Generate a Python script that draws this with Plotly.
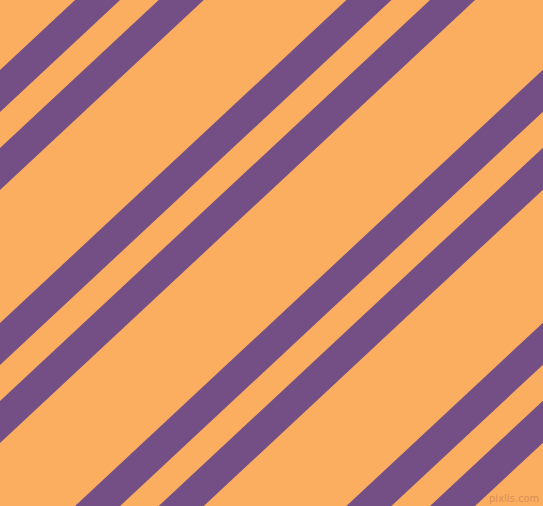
import math
import plotly.graph_objects as go

# Stripe boundaries, expressed as the y-intercept (px) of each edge line at x = 0
stripe_start = [70, 148, 323, 401, 576, 654, 829, 907]
stripe_end = [112, 190, 365, 443, 618, 696, 871, 949]
angle_deg = 43

W, H = 543, 506
bg_color = "#FBAE5F"
stripe_color = "#744F86"
t = math.tan(math.radians(angle_deg))

fig = go.Figure()
x0, x1 = -20, W + 20
for c1, c2 in zip(stripe_start, stripe_end):
    xs = [x0, x1, x1, x0, x0]
    ys = [c1 - t * x0, c1 - t * x1, c2 - t * x1, c2 - t * x0, c1 - t * x0]
    fig.add_trace(go.Scatter(x=xs, y=ys, mode="lines", fill="toself",
                             fillcolor=stripe_color, line=dict(width=0, color=stripe_color),
                             hoverinfo="skip", showlegend=False))

fig.add_annotation(x=514, y=498, text="pixlis.com", showarrow=False,
                   font=dict(family="DejaVu Sans", size=10, color="#D98E55"),
                   xref="x", yref="y")

fig.update_layout(
    width=W, height=H,
    margin=dict(l=0, r=0, t=0, b=0),
    paper_bgcolor=bg_color, plot_bgcolor=bg_color,
    xaxis=dict(range=[0, W], visible=False, fixedrange=True),
    yaxis=dict(range=[H, 0], visible=False, fixedrange=True),
    showlegend=False,
)
fig.write_html(
    "out.html",
    config={"displayModeBar": False},
    post_script="document.body.style.margin='0';document.body.style.overflow='hidden';",
)
